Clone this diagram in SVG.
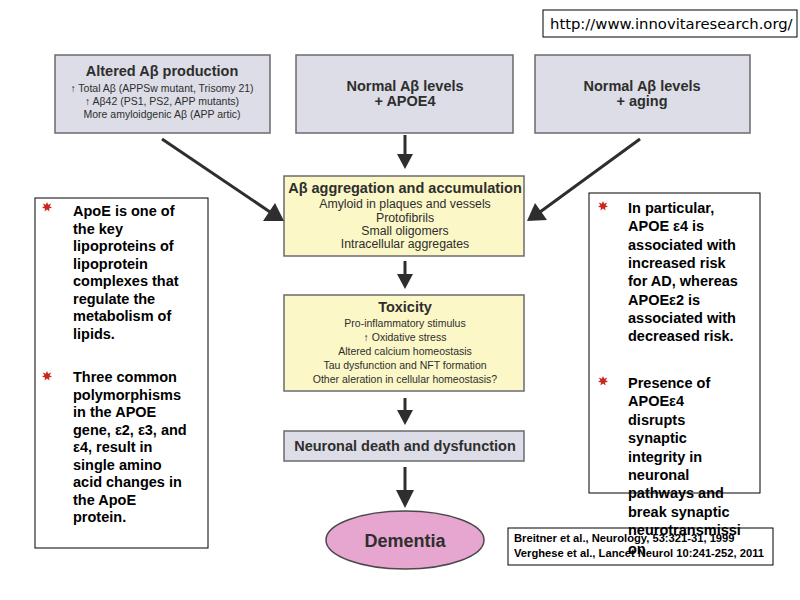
<svg xmlns="http://www.w3.org/2000/svg" width="800" height="600" viewBox="0 0 800 600">
<style>
.gbox{fill:#dcdde6;stroke:#6a6a70;stroke-width:1.5}
.ybox{fill:#fbf7c6;stroke:#6a6a70;stroke-width:1.5}
.t{font-family:"Liberation Sans",Arial,sans-serif;fill:#2e2e2e;text-anchor:middle}
.h{font-weight:bold;font-size:14.5px}
.s{font-size:10.5px}
.m{font-size:12.3px}
.b{font-family:"Liberation Sans",Arial,sans-serif;font-weight:bold;font-size:14.5px;fill:#000}
.ref{font-family:"Liberation Sans",Arial,sans-serif;font-weight:bold;font-size:11.2px;fill:#000}
.wbox{fill:#fff;stroke:#000;stroke-width:1}
.ar{stroke:#2e2e2e;stroke-width:3;fill:none}
.hd{fill:#2e2e2e}
</style>
<defs>
<polygon id="star" points="0,-5 1.2,-2.2 4.3,-3.5 2.6,-0.7 5,0.8 2,1.4 2.5,4.5 0,2.6 -2.5,4.5 -2,1.4 -5,0.8 -2.6,-0.7 -4.3,-3.5 -1.2,-2.2" fill="#c8281e"/>
</defs>
<rect width="800" height="600" fill="#fff"/>

<g id="url">
<rect class="wbox" x="543" y="10" width="254" height="27"/>
<text x="550" y="29" font-family="DejaVu Sans,Verdana,sans-serif" font-size="14.8" fill="#000">http://www.innovitaresearch.org/</text>
</g>

<g id="altered">
<rect class="gbox" x="55" y="55" width="215" height="78"/>
<text class="t h" x="162" y="76">Altered Aβ production</text>
<text class="t s" x="162" y="92">↑ Total Aβ  (APPSw mutant, Trisomy 21)</text>
<text class="t s" x="162" y="105">↑ Aβ42 (PS1, PS2, APP mutants)</text>
<text class="t s" x="162" y="118">More amyloidgenic Aβ (APP artic)</text>
</g>

<g id="apoe4">
<rect class="gbox" x="296" y="55" width="217" height="78"/>
<text class="t h" x="405" y="91">Normal Aβ levels</text>
<text class="t h" x="405" y="106">+ APOE4</text>
</g>

<g id="aging">
<rect class="gbox" x="535" y="55" width="215" height="78"/>
<text class="t h" x="642" y="91">Normal Aβ levels</text>
<text class="t h" x="642" y="106">+ aging</text>
</g>

<g id="aggregation">
<rect class="ybox" x="284" y="176" width="240" height="80"/>
<text class="t h" x="405" y="193">Aβ aggregation and accumulation</text>
<text class="t m" x="405" y="208">Amyloid in plaques and vessels</text>
<text class="t m" x="405" y="222">Protofibrils</text>
<text class="t m" x="405" y="235">Small oligomers</text>
<text class="t m" x="405" y="248">Intracellular aggregates</text>
</g>

<g id="toxicity">
<rect class="ybox" x="284" y="295" width="240" height="96"/>
<text class="t h" x="405" y="312">Toxicity</text>
<text class="t s" x="405" y="327">Pro-inflammatory stimulus</text>
<text class="t s" x="405" y="341">↑ Oxidative stress</text>
<text class="t s" x="405" y="355">Altered calcium homeostasis</text>
<text class="t s" x="405" y="369">Tau dysfunction and NFT formation</text>
<text class="t s" x="405" y="383">Other aleration in cellular homeostasis?</text>
</g>

<g id="neuronal">
<rect class="gbox" x="284" y="431" width="240" height="30"/>
<text class="t h" x="405" y="451">Neuronal death and dysfunction</text>
</g>

<g id="dementia">
<ellipse cx="405" cy="540" rx="79" ry="29" fill="#e6a6cf" stroke="#4a4a4a" stroke-width="1.5"/>
<text class="t" x="405" y="547" font-weight="bold" font-size="18">Dementia</text>
</g>

<g id="connectors">
<line class="ar" x1="162" y1="139" x2="270" y2="212"/>
<polygon class="hd" points="284,221 263,221 275,203"/>
<line class="ar" x1="640" y1="139" x2="540" y2="212"/>
<polygon class="hd" points="527,221 535,203 547,220"/>
<line class="ar" x1="405" y1="135" x2="405" y2="156"/>
<polygon class="hd" points="397,154 413,154 405,169"/>
<line class="ar" x1="405" y1="261" x2="405" y2="276"/>
<polygon class="hd" points="397,274 413,274 405,289"/>
<line class="ar" x1="405" y1="398" x2="405" y2="412"/>
<polygon class="hd" points="397,410 413,410 405,425"/>
<line class="ar" x1="405" y1="467" x2="405" y2="492"/>
<polygon class="hd" points="396,490 414,490 405,508"/>
</g>

<g id="leftnote">
<rect class="wbox" x="35" y="198" width="173" height="350"/>
<use href="#star" x="47" y="207"/>
<text class="b">
<tspan x="73" y="216">ApoE is one of</tspan>
<tspan x="73" y="233.5">the key</tspan>
<tspan x="73" y="251">lipoproteins of</tspan>
<tspan x="73" y="268.5">lipoprotein</tspan>
<tspan x="73" y="286">complexes that</tspan>
<tspan x="73" y="303.5">regulate the</tspan>
<tspan x="73" y="321">metabolism of</tspan>
<tspan x="73" y="338.5">lipids.</tspan>
</text>
<use href="#star" x="47" y="376"/>
<text class="b">
<tspan x="73" y="382">Three common</tspan>
<tspan x="73" y="399.5">polymorphisms</tspan>
<tspan x="73" y="417">in the APOE</tspan>
<tspan x="73" y="434.5">gene, ε2, ε3, and</tspan>
<tspan x="73" y="452">ε4, result in</tspan>
<tspan x="73" y="469.5">single amino</tspan>
<tspan x="73" y="487">acid changes in</tspan>
<tspan x="73" y="504.5">the ApoE</tspan>
<tspan x="73" y="522">protein.</tspan>
</text>
</g>

<g id="rightnote">
<rect class="wbox" x="589" y="193" width="171" height="300"/>
<use href="#star" x="603" y="206"/>
<text class="b">
<tspan x="628" y="213">In particular,</tspan>
<tspan x="628" y="231.3">APOE ε4 is</tspan>
<tspan x="628" y="249.6">associated with</tspan>
<tspan x="628" y="267.9">increased risk</tspan>
<tspan x="628" y="286.2">for AD, whereas</tspan>
<tspan x="628" y="304.5">APOEε2 is</tspan>
<tspan x="628" y="322.8">associated with</tspan>
<tspan x="628" y="341.1">decreased risk.</tspan>
</text>
<use href="#star" x="603" y="381"/>
<text class="b">
<tspan x="628" y="388">Presence of</tspan>
<tspan x="628" y="406.4">APOEε4</tspan>
<tspan x="628" y="424.8">disrupts</tspan>
<tspan x="628" y="443.2">synaptic</tspan>
<tspan x="628" y="461.6">integrity in</tspan>
<tspan x="628" y="480">neuronal</tspan>
<tspan x="628" y="498.4">pathways and</tspan>
<tspan x="628" y="516.8">break synaptic</tspan>
<tspan x="628" y="535.2">neurotransmissi</tspan>
<tspan x="628" y="553.6">on</tspan>
</text>
</g>

<g id="refs">
<rect class="wbox" x="508" y="528" width="265" height="37" style="fill:none"/>
<text class="ref" x="514" y="542">Breitner et al., Neurology, 53:321-31, 1999</text>
<text class="ref" x="514" y="557">Verghese et al., Lancet Neurol 10:241-252, 2011</text>
</g>
</svg>
